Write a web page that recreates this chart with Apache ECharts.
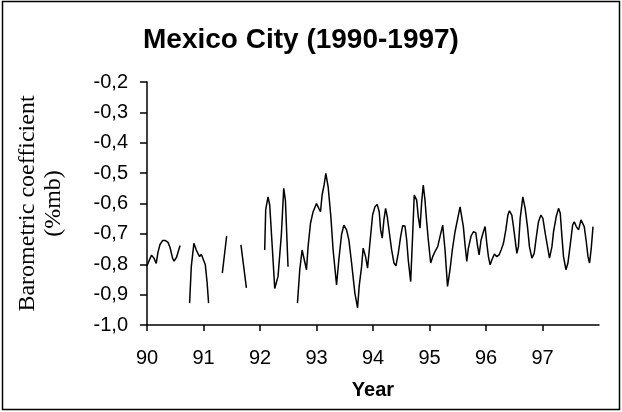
<!DOCTYPE html>
<html>
<head>
<meta charset="utf-8">
<script src="https://cdn.jsdelivr.net/npm/echarts@6/dist/echarts.min.js"></script>
<style>
html,body{margin:0;padding:0;background:#fff;}
#chart{width:622px;height:412px;}
</style>
</head>
<body>
<div id="chart"></div>
<script>
// Time in years (90 = 1990); null value = gap in the record
const years = [
  90.000,90.044,90.080,90.124,90.163,90.195,90.230,90.275,90.328,90.372,90.408,90.452,90.479,90.523,90.585,
  90.670,
  90.754,90.784,90.830,90.872,90.901,90.931,90.961,90.989,91.032,91.064,91.090,
  91.200,
  91.333,91.410,
  91.500,
  91.663,91.759,
  91.900,
  92.083,92.101,92.142,92.172,92.216,92.261,92.319,92.379,92.420,92.450,92.496,
  92.580,
  92.663,92.704,92.745,92.780,92.823,92.851,92.894,92.940,93.000,93.041,93.071,93.099,93.135,93.165,93.206,
  93.254,93.294,93.355,93.395,93.443,93.484,93.532,93.573,93.621,93.679,93.727,93.755,93.798,93.826,93.869,
  93.904,93.945,93.993,94.034,94.074,94.110,94.135,94.163,94.193,94.223,94.252,94.287,94.330,94.371,94.406,
  94.447,94.489,94.525,94.566,94.596,94.624,94.667,94.702,94.730,94.773,94.801,94.832,94.862,94.890,94.920,
  94.950,94.979,95.021,95.057,95.098,95.145,95.186,95.234,95.275,95.319,95.363,95.404,95.452,95.500,95.541,
  95.571,95.599,95.629,95.660,95.688,95.736,95.777,95.819,95.848,95.878,95.913,95.954,95.984,96.014,96.043,
  96.073,96.103,96.149,96.191,96.232,96.268,96.309,96.351,96.387,96.415,96.457,96.486,96.516,96.546,96.574,
  96.605,96.652,96.693,96.734,96.769,96.812,96.853,96.888,96.929,96.972,97.007,97.048,97.089,97.124,97.167,
  97.195,97.243,97.284,97.314,97.344,97.372,97.415,97.450,97.491,97.533,97.562,97.598,97.638,97.681,97.709,
  97.739,97.775,97.805,97.833,97.863,97.894
];
const coefficient = [
  -0.805,-0.785,-0.770,-0.780,-0.797,-0.760,-0.735,-0.722,-0.722,-0.728,-0.745,-0.780,-0.790,-0.777,-0.738,
  null,
  -0.928,-0.808,-0.731,-0.753,-0.764,-0.775,-0.767,-0.769,-0.802,-0.860,-0.928,
  null,
  -0.829,-0.707,
  null,
  -0.736,-0.878,
  null,
  -0.753,-0.620,-0.578,-0.605,-0.740,-0.880,-0.840,-0.700,-0.550,-0.590,-0.808,
  null,
  -0.928,-0.818,-0.753,-0.758,-0.818,-0.742,-0.665,-0.627,-0.600,-0.616,-0.627,-0.572,-0.539,-0.501,-0.545,
  -0.643,-0.753,-0.868,-0.786,-0.703,-0.671,-0.687,-0.720,-0.796,-0.895,-0.944,-0.873,-0.808,-0.747,-0.775,
  -0.813,-0.731,-0.638,-0.611,-0.603,-0.627,-0.687,-0.714,-0.654,-0.616,-0.643,-0.693,-0.753,-0.796,-0.805,
  -0.764,-0.709,-0.673,-0.674,-0.720,-0.786,-0.857,-0.703,-0.572,-0.589,-0.643,-0.681,-0.594,-0.539,-0.589,
  -0.660,-0.720,-0.796,-0.775,-0.758,-0.742,-0.709,-0.671,-0.753,-0.873,-0.818,-0.753,-0.693,-0.649,-0.611,
  -0.605,-0.676,-0.736,-0.791,-0.747,-0.707,-0.693,-0.696,-0.736,-0.769,-0.720,-0.693,-0.676,-0.731,-0.775,
  -0.802,-0.786,-0.766,-0.775,-0.769,-0.753,-0.731,-0.687,-0.638,-0.624,-0.638,-0.676,-0.720,-0.764,-0.742,
  -0.649,-0.578,-0.616,-0.676,-0.742,-0.780,-0.764,-0.714,-0.660,-0.638,-0.649,-0.698,-0.742,-0.780,-0.742,
  -0.693,-0.643,-0.616,-0.632,-0.709,-0.775,-0.818,-0.796,-0.736,-0.671,-0.660,-0.676,-0.687,-0.654,-0.649,
  -0.676,-0.726,-0.775,-0.796,-0.747,-0.676
];
const xTickLabels = [90, 91, 92, 93, 94, 95, 96, 97];
const yTickValues = [-1.0, -0.9, -0.8, -0.7, -0.6, -0.5, -0.4, -0.3, -0.2];

const seriesData = years.map((x, i) => [x, coefficient[i] === null ? '-' : coefficient[i]]);
const sans = '"Liberation Sans", Arial, sans-serif';

const chart = echarts.init(document.getElementById('chart'), null, {renderer: 'canvas'});
chart.setOption({
  animation: false,
  backgroundColor: '#fff',
  title: {
    text: 'Mexico City (1990-1997)',
    left: 143,
    top: 26,
    padding: 0,
    textStyle: {fontFamily: sans, fontSize: 28, fontWeight: 'bold', color: '#000'}
  },
  graphic: [{
    type: 'rect',
    shape: {x: 2.5, y: 1.5, width: 617, height: 408},
    style: {fill: 'none', stroke: '#000', lineWidth: 1.5},
    silent: true
  }],
  grid: {left: 147, right: 23, top: 82, bottom: 87},
  xAxis: {
    type: 'value',
    min: 90,
    max: 98,
    interval: 1,
    name: 'Year',
    nameLocation: 'middle',
    nameGap: 55,
    nameTextStyle: {fontFamily: sans, fontSize: 20, fontWeight: 'bold', color: '#000'},
    axisLine: {show: true, onZero: false, lineStyle: {color: '#000', width: 1.5}},
    axisTick: {show: true, inside: false, length: 6, lineStyle: {color: '#000', width: 1.5}, customValues: xTickLabels},
    axisLabel: {fontFamily: sans, fontSize: 20, color: '#000', margin: 23, customValues: xTickLabels,
      formatter: v => String(Math.round(v))},
    splitLine: {show: false}
  },
  yAxis: {
    type: 'value',
    min: -1.0,
    max: -0.2,
    interval: 0.1,
    name: 'Barometric coefficient\n(%mb)',
    nameLocation: 'middle',
    nameRotate: 90,
    nameGap: 80,
    nameTextStyle: {fontFamily: '"Liberation Serif", "Times New Roman", serif', fontSize: 24, lineHeight: 26, color: '#000', align: 'center'},
    axisLine: {show: true, onZero: false, lineStyle: {color: '#000', width: 1.5}},
    axisTick: {show: true, inside: false, length: 7, lineStyle: {color: '#000', width: 1.5}, customValues: yTickValues},
    axisLabel: {fontFamily: sans, fontSize: 20, color: '#000', margin: 19, customValues: yTickValues,
      formatter: v => v.toFixed(1).replace('.', ',')},
    splitLine: {show: false}
  },
  series: [{
    type: 'line',
    data: seriesData,
    showSymbol: false,
    connectNulls: false,
    smooth: false,
    lineStyle: {color: '#000', width: 1.5},
    itemStyle: {color: '#000'}
  }]
});
</script>
</body>
</html>
